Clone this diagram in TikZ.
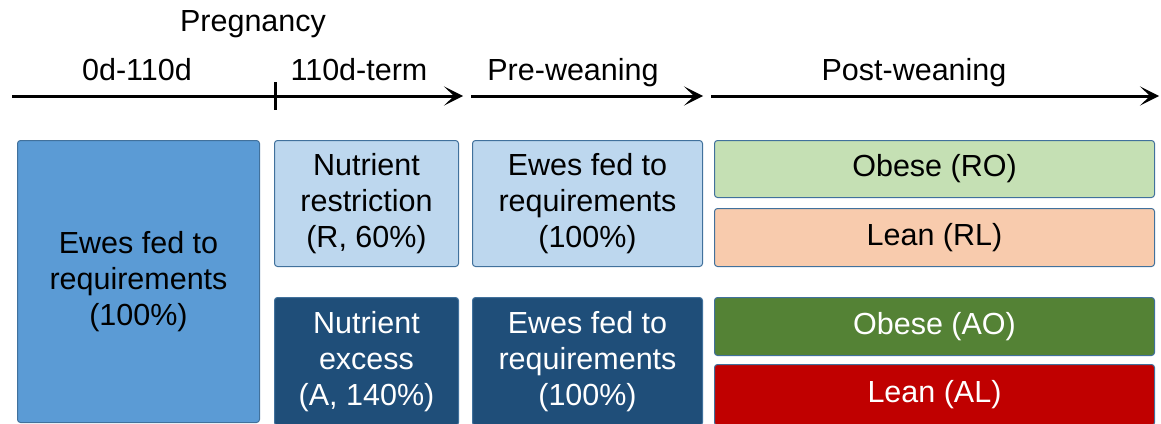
\documentclass[tikz,border=0pt]{standalone}
\usepackage{fontspec}
\setmainfont{Liberation Sans}
\usetikzlibrary{arrows.meta}
\definecolor{midblue}{HTML}{5B9BD5}
\definecolor{lightblue}{HTML}{BDD7EE}
\definecolor{darkblue}{HTML}{1F4E79}
\definecolor{lightgreen}{HTML}{C5E0B4}
\definecolor{peach}{HTML}{F8CBAD}
\definecolor{darkgreen}{HTML}{548235}
\definecolor{darkred}{HTML}{C00000}
\definecolor{edgeblue}{HTML}{41719C}
\tikzset{
  box/.style={rectangle, rounded corners=3pt, draw=edgeblue, line width=1pt, align=center, inner sep=0pt, anchor=north west, font=\fontsize{30.5}{36}\selectfont},
  lbl/.style={anchor=base, inner sep=0pt, font=\fontsize{30.5}{36}\selectfont},
  timeline/.style={line width=3pt, -{Stealth[length=19pt, width=19pt, inset=10pt]}}
}
\begin{document}
\begin{tikzpicture}[x=1pt, y=-1pt]
\useasboundingbox (0,0) rectangle (1161,423);
\begin{scope}
\clip (0,0) rectangle (1161,423);
% labels
\node[lbl] (preg) at (253,31) {Pregnancy};
\node[lbl] (l1) at (137,80) {0d-110d};
\node[lbl] (l2) at (359,80) {110d-term};
\node[lbl] (l3) at (573,80) {Pre-weaning};
\node[lbl] (l4) at (914,80) {Post-weaning};
% timeline
\coordinate (a1s) at (12,96);
\coordinate (a1e) at (463,96);
\coordinate (a2s) at (471,96);
\coordinate (a2e) at (703,96);
\coordinate (a3s) at (711,96);
\coordinate (a3e) at (1159,96);
\coordinate (tt) at (275,82);
\coordinate (tb) at (275,110);
\draw[timeline] (a1s) -- (a1e);
\draw[timeline] (a2s) -- (a2e);
\draw[timeline] (a3s) -- (a3e);
\draw[line width=3pt] (tt) -- (tb);
% boxes
\node[box, fill=midblue, minimum width=242pt, minimum height=282pt] (big) at (17,140) {Ewes fed to\\requirements\\(100\%)};
\node[box, fill=lightblue, minimum width=184pt, minimum height=126pt] (nr) at (274,140) {Nutrient\\restriction\\(R, 60\%)};
\node[box, fill=lightblue, minimum width=230pt, minimum height=126pt] (pw1) at (472,140) {Ewes fed to\\requirements\\(100\%)};
\node[box, fill=darkblue, text=white, minimum width=184pt, minimum height=128pt] (ne) at (274,297) {Nutrient\\excess\\(A, 140\%)};
\node[box, fill=darkblue, text=white, minimum width=230pt, minimum height=128pt] (pw2) at (472,297) {Ewes fed to\\requirements\\(100\%)};
\node[box, fill=lightgreen, minimum width=440pt, minimum height=57pt] (ro) at (714,140) {Obese (RO)};
\node[box, fill=peach, minimum width=440pt, minimum height=58pt] (rl) at (714,208) {Lean (RL)};
\node[box, fill=darkgreen, text=white, minimum width=440pt, minimum height=58pt] (ao) at (714,297) {Obese (AO)};
\node[box, fill=darkred, text=white, minimum width=440pt, minimum height=61pt] (al) at (714,364) {Lean (AL)};
\end{scope}
\end{tikzpicture}
\end{document}
